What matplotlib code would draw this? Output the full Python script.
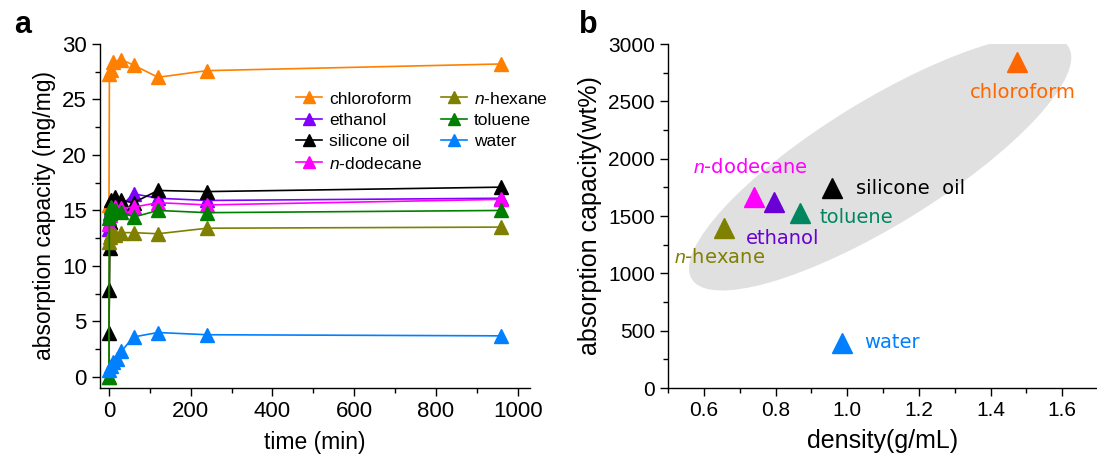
import matplotlib
matplotlib.use("Agg")
import matplotlib.pyplot as plt
from matplotlib.patches import Ellipse
from matplotlib.transforms import Affine2D
from matplotlib.ticker import MultipleLocator

plt.rcParams["font.family"] = ["Liberation Sans", "DejaVu Sans"]
plt.rcParams["mathtext.fontset"] = "custom"
plt.rcParams["mathtext.it"] = "Liberation Sans:italic"
plt.rcParams["mathtext.rm"] = "Liberation Sans"

# panel a: absorption kinetics
names = ["chloroform", "ethanol", "silicone oil", "$\\it{n}$-dodecane",
         "$\\it{n}$-hexane", "toluene", "water"]
colors_a = ["#FF8000", "#8000FF", "#000000", "#FF00FF", "#808000", "#008000", "#0080FF"]

t_chloroform = [0, 1, 5, 10, 30, 60, 120, 240, 960]
v_chloroform = [15.5, 27.3, 27.7, 28.4, 28.6, 28.1, 27.0, 27.6, 28.2]
t_ethanol = [0, 2, 5, 15, 30, 60, 120, 240, 960]
v_ethanol = [13.3, 14.0, 15.0, 15.5, 15.4, 16.5, 16.1, 15.9, 16.1]
t_silicone = [0, 1, 2, 3, 5, 15, 30, 60, 120, 240, 960]
v_silicone = [4.0, 7.8, 11.6, 14.0, 15.9, 16.2, 15.9, 15.7, 16.8, 16.7, 17.1]
t_dodecane = [0, 2, 5, 15, 30, 60, 120, 240, 960]
v_dodecane = [13.8, 14.6, 15.2, 15.3, 15.2, 15.3, 15.7, 15.5, 16.0]
t_hexane = [0, 1, 3, 5, 15, 30, 60, 120, 240, 960]
v_hexane = [0.0, 12.2, 12.6, 12.9, 12.8, 13.0, 13.0, 12.9, 13.4, 13.5]
t_toluene = [0, 1, 3, 5, 15, 30, 60, 120, 240, 960]
v_toluene = [0.0, 14.3, 14.8, 15.3, 15.0, 14.9, 14.4, 15.0, 14.8, 15.0]
t_water = [0, 5, 10, 20, 30, 60, 120, 240, 960]
v_water = [0.6, 1.0, 1.3, 1.6, 2.3, 3.6, 4.0, 3.8, 3.7]

times = [t_chloroform, t_ethanol, t_silicone, t_dodecane, t_hexane, t_toluene, t_water]
values = [v_chloroform, v_ethanol, v_silicone, v_dodecane, v_hexane, v_toluene, v_water]

# panel b: capacity vs density
b_names = ["chloroform", "silicone  oil", "$\\it{n}$-dodecane", "ethanol",
           "toluene", "$\\it{n}$-hexane", "water"]
b_colors = ["#FF6600", "#000000", "#FF00FF", "#6A00D4", "#00875F", "#808000", "#0080FF"]
density = [1.475, 0.958, 0.739, 0.797, 0.869, 0.656, 0.986]
capacity = [2842, 1744, 1666, 1622, 1526, 1395, 392]
# text anchor positions (data coords) and alignment
label_x = [1.489, 1.025, 0.569, 0.717, 0.922, 0.517, 1.047]
label_y = [2581, 1744, 1919, 1308, 1491, 1134, 401]
label_ha = ["center", "left", "left", "left", "left", "left", "left"]

fig = plt.figure(figsize=(10.97, 4.59), dpi=100)
W, H = 1097, 459
ax1 = fig.add_axes([100 / W, (H - 388) / H, 430 / W, 344 / H])
ax2 = fig.add_axes([668 / W, (H - 388) / H, 430 / W, 344 / H])

for t, v, c, n in zip(times, values, colors_a, names):
    ax1.plot(t, v, color=c, lw=1.2, marker="^", ms=10, label=n, clip_on=False)

ax1.set_xlim(-22, 1030)
ax1.set_ylim(-1, 30)
ax1.xaxis.set_major_locator(MultipleLocator(200))
ax1.xaxis.set_minor_locator(MultipleLocator(100))
ax1.yaxis.set_major_locator(MultipleLocator(5))
ax1.yaxis.set_minor_locator(MultipleLocator(2.5))
ax1.set_xlabel("time (min)", fontsize=16.5, labelpad=6)
ax1.set_ylabel("absorption capacity (mg/mg)", fontsize=16.5, labelpad=4)
ax1.legend(ncol=2, loc="upper left", bbox_to_anchor=(0.44, 0.885), frameon=False,
           fontsize=12.5, handlelength=1.5, handletextpad=0.4, columnspacing=1.1,
           labelspacing=0.36, borderaxespad=0, markerscale=0.8)
ax1.text(-0.18, 1.055, "a", transform=ax1.transAxes, fontsize=22, fontweight="bold",
         va="center", ha="center")

# grey ellipse drawn in pixel-like units, then scaled to data
px_x = 360.0   # px per unit density
px_y = 0.11467  # px per wt%
ell = Ellipse((1.092 * px_x, 1962 * px_y), width=444, height=124, angle=31.5,
              facecolor="#E0E0E0", edgecolor="none",
              transform=Affine2D().scale(1 / px_x, 1 / px_y) + ax2.transData, zorder=0)
ax2.add_patch(ell)

for x, y, c in zip(density, capacity, b_colors):
    ax2.plot(x, y, marker="^", ms=14, color=c, ls="none", zorder=3)
for n, lx, ly, ha, c in zip(b_names, label_x, label_y, label_ha, b_colors):
    ax2.text(lx, ly, n, color=c, ha=ha, va="center", fontsize=14,
             family="DejaVu Sans", zorder=4)

ax2.set_xlim(0.5, 1.7)
ax2.set_ylim(0, 3000)
ax2.xaxis.set_major_locator(MultipleLocator(0.2))
ax2.xaxis.set_minor_locator(MultipleLocator(0.1))
ax2.yaxis.set_major_locator(MultipleLocator(500))
ax2.yaxis.set_minor_locator(MultipleLocator(250))
ax2.set_xlabel("density(g/mL)", fontsize=18, labelpad=6)
ax2.set_ylabel("absorption capacity(wt%)", fontsize=18, labelpad=4)
ax2.text(-0.186, 1.055, "b", transform=ax2.transAxes, fontsize=22, fontweight="bold",
         va="center", ha="center")

for ax in (ax1, ax2):
    ax.spines["top"].set_visible(False)
    ax.spines["right"].set_visible(False)
    ax.spines["left"].set_linewidth(1.0)
    ax.spines["bottom"].set_linewidth(1.0)
    ax.tick_params(which="major", direction="out", length=6, width=1)
    ax.tick_params(which="minor", direction="out", length=3.5, width=1)
ax1.tick_params(labelsize=16)
ax2.tick_params(labelsize=15)

fig.savefig("out.png", dpi=100)
